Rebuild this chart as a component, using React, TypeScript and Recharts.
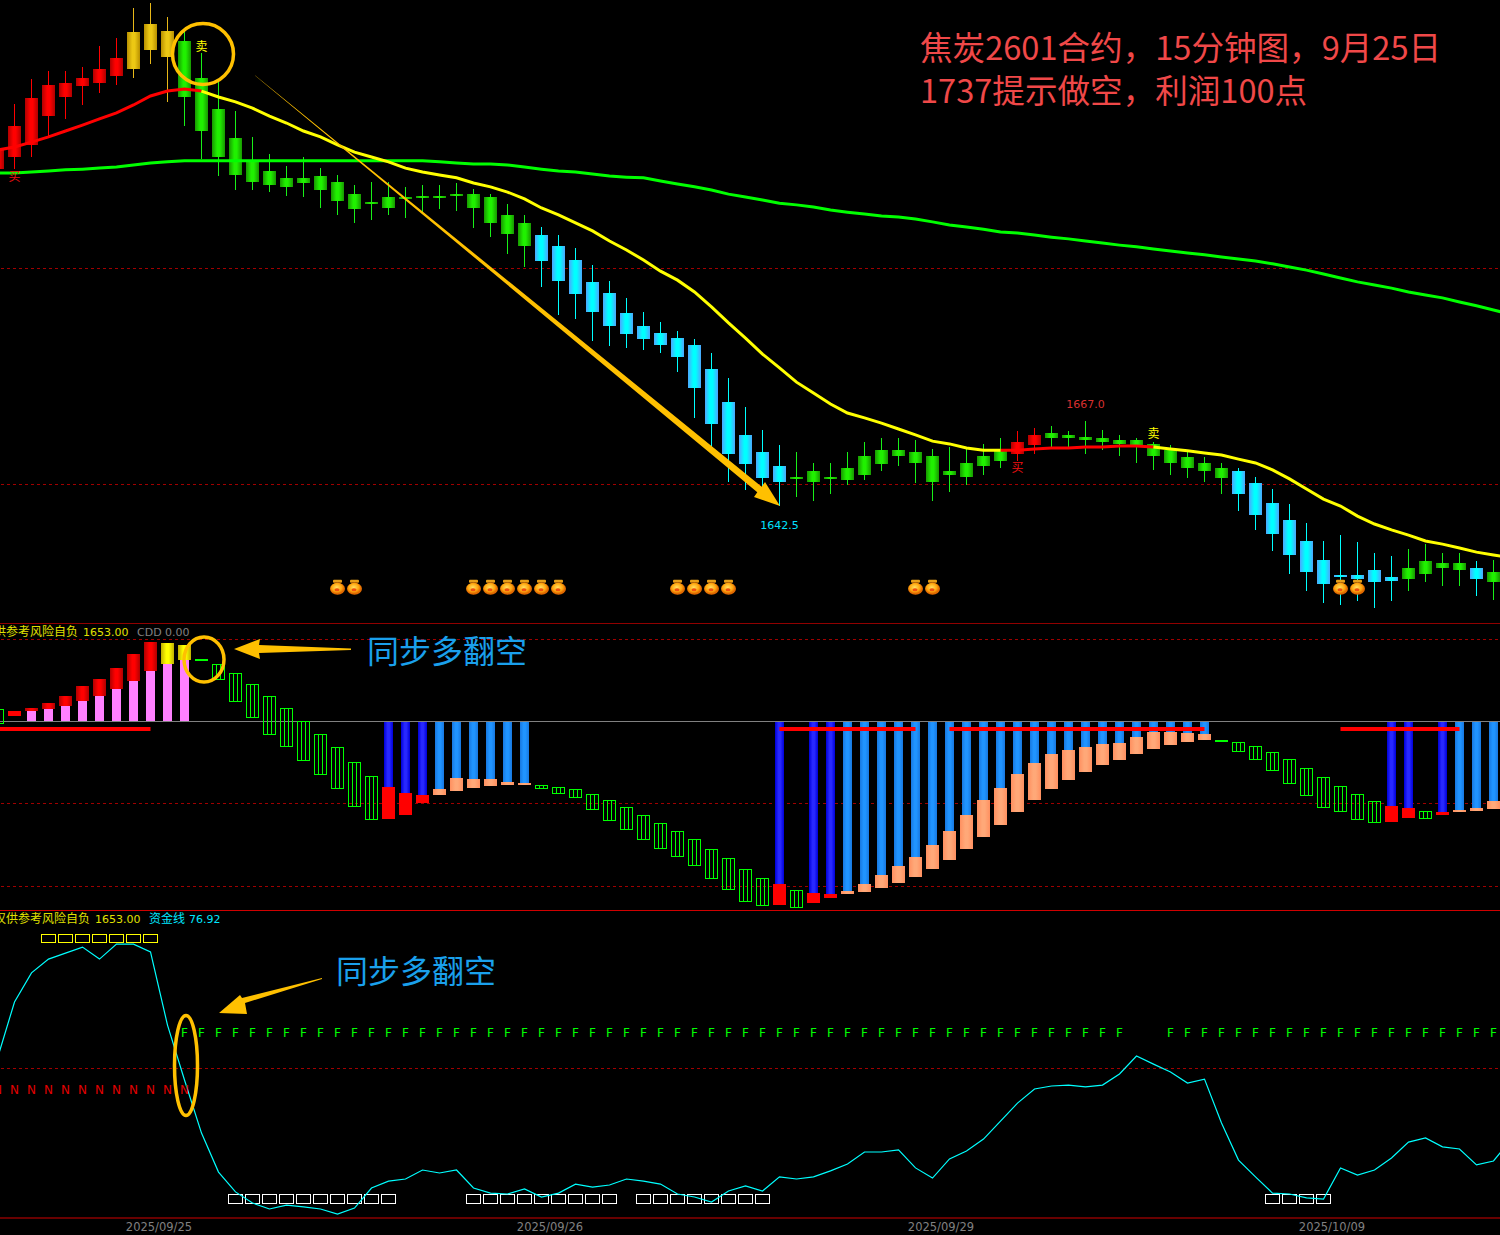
import React from "react";
import { ComposedChart, Bar, Line, XAxis, YAxis, ReferenceLine, ReferenceDot } from "recharts";

// price candles, bars 0-88
const highs = [1748, 1758.5, 1765.5, 1768, 1768, 1769, 1775, 1777.5, 1786, 1787.5,
    1783.5, 1779, 1773, 1765, 1756.5, 1749, 1744, 1740.5, 1743, 1740,
    1738, 1735, 1736, 1736, 1734.5, 1735, 1735, 1735.5, 1734, 1732.5,
    1729.5, 1726.5, 1723, 1720.5, 1717, 1712, 1707.5, 1702.5, 1698.5, 1695.5,
    1693, 1690.5, 1686.5, 1679.5, 1671, 1664.5, 1660, 1658, 1655, 1655,
    1658, 1661, 1662, 1662, 1661.5, 1659, 1659.5, 1659, 1660.5, 1662,
    1664, 1665, 1665.5, 1664, 1667, 1664.5, 1663, 1662, 1661, 1660,
    1658, 1656.5, 1655, 1653.5, 1651, 1647.5, 1643, 1637.5, 1632.5, 1634,
    1632, 1629, 1628, 1630, 1631.5, 1629, 1629, 1626.5, 1627];
const lows = [1739, 1739.5, 1743, 1749, 1754, 1758, 1761.5, 1764, 1766, 1770,
    1759, 1752, 1742.5, 1737.5, 1733.5, 1733.5, 1733, 1732, 1731.5, 1728.5,
    1726.5, 1724, 1725, 1726.5, 1725.5, 1727, 1728, 1727.5, 1722.5, 1720,
    1715, 1711.5, 1705.5, 1697.5, 1696.5, 1690, 1688.5, 1688, 1687.5, 1686.5,
    1681, 1668, 1658, 1649.5, 1647, 1647, 1642.5, 1645, 1644, 1646,
    1648.5, 1650, 1652.5, 1654, 1649, 1644, 1646.5, 1648.5, 1651.5, 1653.5,
    1655.5, 1657.5, 1659, 1659.5, 1657.5, 1658.5, 1657, 1655, 1653, 1651.5,
    1650.5, 1649.5, 1646, 1641, 1635.5, 1629.5, 1623, 1618, 1614.5, 1614,
    1615, 1613, 1615, 1618, 1620.5, 1619.5, 1619.5, 1616.5, 1615.5];
const bodyTops = [1745.5, 1752, 1760, 1764, 1764.5, 1766, 1768.5, 1771.5, 1779, 1781.5,
    1779.5, 1776.5, 1766, 1757, 1748.5, 1742, 1739, 1737, 1737, 1737.5,
    1736, 1732.5, 1730, 1731.5, 1731.5, 1732, 1732, 1732.5, 1732.5, 1731.5,
    1726.5, 1724, 1720.5, 1717.5, 1713.5, 1707, 1704, 1698, 1694.5, 1692.5,
    1691, 1689, 1682, 1672.5, 1663, 1658, 1654, 1651, 1652.5, 1651,
    1653.5, 1657, 1658.5, 1658.5, 1658, 1657, 1652.5, 1655, 1657, 1659,
    1661, 1663, 1663.5, 1663, 1662.5, 1662, 1661.5, 1661.5, 1660.5, 1658.5,
    1656.5, 1655, 1653.5, 1652.5, 1649, 1643.5, 1638.5, 1632.5, 1627, 1622.5,
    1622.5, 1624, 1622, 1624.5, 1626.5, 1626, 1626, 1624.5, 1623.5];
const bodyBottoms = [1739.5, 1743, 1746.5, 1755, 1760.5, 1763.5, 1764.5, 1766.5, 1768.5, 1774,
    1772, 1760.5, 1750.5, 1743, 1738, 1736, 1735, 1734.5, 1735.5, 1733.5,
    1730.5, 1728, 1729.5, 1728.5, 1731, 1731.5, 1731.5, 1732, 1728.5, 1724,
    1721, 1717.5, 1713, 1707.5, 1703.5, 1698.5, 1694.5, 1692, 1690.5, 1689,
    1685.5, 1676.5, 1666, 1657.5, 1654.5, 1650.5, 1649.5, 1650.5, 1649.5, 1650.5,
    1650, 1651.5, 1654.5, 1657, 1655, 1649.5, 1651.5, 1651, 1654, 1655.5,
    1657.5, 1660, 1662, 1662, 1661.5, 1661, 1660.5, 1660, 1657, 1655,
    1653.5, 1652.5, 1650.5, 1646, 1640, 1634.5, 1628.5, 1623.5, 1620, 1622,
    1621.5, 1620.5, 1621, 1621.5, 1623, 1624.5, 1624, 1621.5, 1620.5];
const candleRuns: [string, number][] = [["red", 8], ["gold", 3], ["green", 21], ["cyan", 15], ["green", 13],
    ["red", 2], ["green", 11], ["cyan", 10], ["green", 4], ["cyan", 1], ["green", 1]];

// moving averages, one extra value so the lines run off the right edge
const fastMa = [1745.1, 1746, 1747.4, 1748.9, 1750.6, 1752.3, 1754.1, 1755.8, 1758.1, 1760.7,
    1762.1, 1762.7, 1762.1, 1760.4, 1759, 1757.2, 1754.9, 1752.9, 1750.6, 1748.9,
    1746.6, 1744.5, 1743.1, 1741.7, 1739.9, 1738.8, 1737.9, 1737.1, 1735.6, 1734.5,
    1733, 1731, 1728.4, 1726.4, 1724.1, 1721.8, 1718.9, 1716.3, 1713.4, 1710.2,
    1707.6, 1704.2, 1699.9, 1695.3, 1690.9, 1686.3, 1682.3, 1678.2, 1675.1, 1671.9,
    1669.3, 1667.9, 1666.4, 1664.7, 1663, 1661.2, 1660.4, 1659.2, 1658.6, 1658.6,
    1658.6, 1658.9, 1659.2, 1659.2, 1659.5, 1659.5, 1659.8, 1659.8, 1659.5, 1658.9,
    1658.4, 1657.8, 1657.2, 1656, 1654.9, 1652.9, 1650.3, 1647.4, 1644.5, 1642.5,
    1639.6, 1637.3, 1635.6, 1634.1, 1632.4, 1631.5, 1630.4, 1629.2, 1628.4, 1627.5];
const slowMa = [1738.5, 1738.5, 1738.8, 1739.1, 1739.4, 1739.6, 1739.9, 1740.2, 1740.8, 1741.4,
    1741.7, 1742, 1742, 1742, 1742, 1742, 1742, 1742, 1742, 1742,
    1742, 1742, 1742, 1742, 1742, 1742, 1741.7, 1741.4, 1741.1, 1741.1,
    1740.8, 1740.2, 1739.6, 1739.1, 1738.8, 1738.2, 1737.6, 1737.3, 1737.1, 1736.2,
    1735.3, 1734.5, 1733.6, 1732.4, 1731.6, 1730.7, 1729.8, 1729.3, 1728.7, 1727.8,
    1727.2, 1726.7, 1726.1, 1725.8, 1725.2, 1724.4, 1723.5, 1722.9, 1722.3, 1721.5,
    1721.2, 1720.6, 1720, 1719.5, 1718.9, 1718.3, 1717.7, 1717.2, 1716.6, 1716,
    1715.4, 1714.9, 1714.3, 1713.7, 1713.1, 1712.3, 1711.4, 1710.5, 1709.4, 1708.2,
    1707.1, 1706.2, 1705.3, 1704.2, 1703.3, 1702.5, 1701.3, 1700.2, 1699, 1697.8];
const redMaRuns = [[0, 12], [59, 68]];
const yellowMaRuns = [[12, 59], [68, 89]];
const potBars = [20, 21, 28, 29, 30, 31, 32, 33, 40, 41, 42, 43, 54, 55, 79, 80];
const potLevel = 1619.1;
const priceDomain = [1608.77, 1788.36];
const priceGuides = [1711.1, 1648.8];
const priceNotes = [
    { bar: 1, price: 1737.3, text: "买", color: "#f01010", size: 12 },
    { bar: 12, price: 1774.8, text: "卖", color: "#ffff00", size: 12 },
    { bar: 60, price: 1653.5, text: "买", color: "#f01010", size: 12 },
    { bar: 68, price: 1663.3, text: "卖", color: "#ffff00", size: 12 },
    { bar: 46, price: 1637, text: "1642.5", color: "#00e0ff", size: 11 },
    { bar: 64, price: 1671.9, text: "1667.0", color: "#d83030", size: 11 },
];

// middle panel
const macdHighs = [12, 10, 13, 18, 25, 35, 42, 53, 67, 79,
    78, 76, 62, 57, 48, 37, 25, 13, 0, -13,
    -26, -41, -55, -66, -72, -74, -68, -57, -58, -58,
    -61, -62, -64, -66, -68, -73, -79, -86, -94, -102,
    -110, -118, -128, -137, -148, -157, -163, -169, -172, -173,
    -170, -163, -154, -145, -136, -124, -110, -94, -79, -67,
    -53, -42, -33, -29, -26, -23, -22, -16, -11, -11,
    -12, -13, -19, -21, -25, -31, -38, -47, -56, -65,
    -73, -80, -85, -87, -90, -91, -89, -87, -80];
const macdLows = [-2, 5, 10, 12, 15, 20, 25, 32, 40, 50,
    57, 61, 60, 42, 20, 4, -13, -25, -39, -53,
    -67, -85, -98, -98, -94, -82, -74, -70, -67, -65,
    -64, -64, -67, -72, -76, -88, -99, -108, -118, -127,
    -135, -144, -157, -168, -180, -184, -184, -186, -182, -177,
    -173, -171, -167, -162, -156, -148, -139, -128, -116, -104,
    -91, -79, -68, -59, -51, -44, -39, -33, -28, -24,
    -21, -19, -21, -30, -38, -49, -62, -74, -86, -90,
    -98, -101, -101, -97, -97, -94, -91, -90, -88];
const macdRuns: [string, number][] = [["box", 1], ["flat", 1], ["rise", 8], ["warn", 2], ["dash", 1], ["box", 10],
    ["deep", 3], ["mild", 6], ["box", 14], ["deep", 1], ["box", 1], ["deep", 2], ["mild", 22], ["dash", 1],
    ["box", 9], ["deep", 2], ["box", 1], ["deep", 1], ["mild", 3]];
const bandRuns = [[0, 9], [46, 54], [56, 71], [79, 86]];
const bandLevel = -8;
const macdDomain = [-189, 98];
const macdGuides = [82, -82, -165];

// bottom panel
const fundLine = [53.3, 72, 81.7, 86.3, 88.3, 90.3, 86.3, 91.3, 91.3, 88.7,
    64.3, 46, 28.3, 15.3, 8.7, 5, 3, 4.3, 3.7, 3,
    1.3, 3.3, 10, 12.3, 13, 16, 15, 16, 10, 8.3,
    8, 9.7, 7, 8.3, 11.3, 10.3, 11, 13, 12.3, 11.3,
    8, 7, 5.3, 9, 10.7, 9, 13.7, 13, 13.7, 15.7,
    18, 22, 22, 22.7, 16.7, 13.3, 19.7, 22.3, 26.3, 32.3,
    38.3, 43, 44, 44.3, 43.7, 44.3, 48, 54, 51.3, 48.7,
    45, 46.3, 31.7, 19.3, 13.7, 8.3, 8, 6.7, 6.3, 16.7,
    14.3, 16, 20, 25.3, 26.7, 23.7, 23, 17.7, 19, 26];
const yellowFlagRuns = [[3, 9]];
const whiteFlagRuns = [[14, 23], [28, 36], [38, 45], [75, 78]];
const fRuns = [[11, 66], [69, 89]];
const nRuns = [[0, 11]];
const fLevel = 61.7;
const nLevel = 43;
const fundDomain = [0, 102.67];
const fundGuide = 50;
const dateTicks = [9, 32, 55, 78];
const dateLabels = ["2025/09/25", "2025/09/26", "2025/09/29", "2025/10/09"];

const expand = (runs: [string, number][]) => runs.flatMap(([k, n]) => Array(n).fill(k));
const inRuns = (runs: number[][], i: number) => runs.some(([a, b]) => i >= a && i <= b);
const candleKinds = expand(candleRuns);
const macdKinds = expand(macdRuns);
const noStem = ["box", "flat", "dash"];

const rows = Array.from({ length: 90 }, (_, i) => ({
    idx: i,
    candle: i < 89 ? [lows[i], highs[i]] : null,
    bodyTop: bodyTops[i],
    bodyBottom: bodyBottoms[i],
    kind: candleKinds[i],
    maRed: inRuns(redMaRuns, i) ? fastMa[i] : null,
    maYellow: inRuns(yellowMaRuns, i) ? fastMa[i] : null,
    slow: slowMa[i],
    pot: potBars.includes(i) ? potLevel : null,
    macd: i < 89 ? [Math.min(macdLows[i], noStem.includes(macdKinds[i]) ? macdLows[i] : 0),
        Math.max(macdHighs[i], noStem.includes(macdKinds[i]) ? macdHighs[i] : 0)] : null,
    capHigh: macdHighs[i],
    capLow: macdLows[i],
    macdKind: macdKinds[i],
    band: inRuns(bandRuns, i) ? bandLevel : null,
    fund: fundLine[i],
    flag: inRuns(yellowFlagRuns, i) ? [92, 94.7] : inRuns(whiteFlagRuns, i) ? [5, 8] : null,
    flagColor: inRuns(yellowFlagRuns, i) ? "#ffff00" : "#ffffff",
    fMark: inRuns(fRuns, i) ? fLevel : null,
    nMark: inRuns(nRuns, i) ? nLevel : null,
}));

const wickColors: Record<string, string> = { red: "#ff0000", gold: "#e8b818", green: "#18f018", cyan: "#00ffff" };

const Candle = (props: any) => {
    const { x, y, width, height, payload } = props;
    if (!payload || !payload.candle) return null;
    const [lo, hi] = payload.candle;
    const px = (v: number) => Math.round(y + ((hi - v) / (hi - lo)) * height);
    const top = px(payload.bodyTop);
    const bottom = Math.max(px(payload.bodyBottom), top + 2);
    return (
        <g shapeRendering="crispEdges">
            <rect x={x + 6} y={px(hi)} width={1} height={px(lo) - px(hi)} fill={wickColors[payload.kind]} />
            <rect x={x} y={top} width={width} height={bottom - top} fill={`url(#grad-${payload.kind})`} />
        </g>
    );
};

const MacdBar = (props: any) => {
    const { x, y, width, height, payload } = props;
    if (!payload || !payload.macd) return null;
    const [lo, hi] = payload.macd;
    const px = (v: number) => Math.round(y + ((hi - v) / (hi - lo)) * height);
    const top = px(payload.capHigh);
    const bottom = Math.max(px(payload.capLow), top + 2);
    const kind = payload.macdKind;
    if (kind === "box") {
        return (
            <g shapeRendering="crispEdges" fill="none" stroke="#00ff00">
                <rect x={x + 0.5} y={top + 0.5} width={12} height={bottom - top} />
                <line x1={x + 4.5} x2={x + 4.5} y1={top} y2={bottom} />
                <line x1={x + 8.5} x2={x + 8.5} y1={top} y2={bottom} />
            </g>
        );
    }
    if (kind === "dash") return <rect x={x} y={top} width={width} height={2} fill="#00ff00" shapeRendering="crispEdges" />;
    if (kind === "flat") return <rect x={x} y={top} width={width} height={bottom - top} fill="#ff0000" shapeRendering="crispEdges" />;
    const zero = px(0);
    const up = kind === "rise" || kind === "warn";
    const stemFill = up ? "#ff80ff" : kind === "deep" ? "url(#grad-deep)" : "url(#grad-mild)";
    const capFill = kind === "rise" ? "url(#grad-red)" : kind === "warn" ? "url(#grad-warn)" : kind === "deep" ? "#ff0000" : "url(#grad-salmon)";
    return (
        <g shapeRendering="crispEdges">
            {up
                ? <rect x={x + 2} y={bottom} width={9} height={zero - bottom} fill={stemFill} />
                : <rect x={x + 2} y={zero + 1} width={9} height={top - zero} fill={stemFill} />}
            <rect x={x} y={top} width={width} height={bottom - top} fill={capFill} />
        </g>
    );
};

const FlagBox = (props: any) => {
    const { x, y, height, payload } = props;
    if (!payload || !payload.flag) return null;
    const ty = Math.round(y);
    return <rect x={x + 0.5} y={ty + 0.5} width={14} height={Math.round(height)} fill="none" stroke={payload.flagColor} shapeRendering="crispEdges" />;
};

const Pot = (props: any) => {
    const { cx, cy, index } = props;
    if (cy == null || Number.isNaN(cy)) return <g key={index} />;
    return (
        <g key={index}>
            <rect x={cx - 4.5} y={cy - 7.5} width={9} height={3} rx={1} fill="#e8a018" />
            <rect x={cx - 3} y={cy - 5} width={6} height={2} fill="#b06008" />
            <ellipse cx={cx} cy={cy + 1.5} rx={7.5} ry={6} fill="url(#grad-pot)" />
            <ellipse cx={cx - 0.5} cy={cy + 2.5} rx={2.5} ry={1.5} fill="#f05010" />
        </g>
    );
};

const letterDot = (letter: string, color: string) => (props: any) => {
    const { cx, cy, index } = props;
    if (cy == null || Number.isNaN(cy)) return <g key={index} />;
    return (
        <text key={index} x={cx} y={cy + 4.5} textAnchor="middle" fontSize={12} fontFamily="DejaVu Sans" fill={color}>
            {letter}
        </text>
    );
};

const grad = (id: string, edge: string, mid: string) => (
    <linearGradient id={id} x1="0" y1="0" x2="1" y2="0">
        <stop offset="0" stopColor={edge} />
        <stop offset="0.4" stopColor={mid} />
        <stop offset="0.6" stopColor={mid} />
        <stop offset="1" stopColor={edge} />
    </linearGradient>
);

const abs = (top: number): React.CSSProperties => ({ position: "absolute", left: 0, top });
const plotMargin = { top: 0, right: -19, bottom: 0, left: -11 };
const amber = "#ffc000";
const cjk = "Noto Sans CJK SC";
const latin = "DejaVu Sans";

// dashed levels sit in their own chart below the bars
const GuideLayer = ({ top, height, domain, dashed, solid }: { top: number; height: number; domain: number[]; dashed: number[]; solid?: number }) => (
    <div style={abs(top)}>
        <ComposedChart width={1500} height={height} data={rows} margin={plotMargin}>
            <XAxis dataKey="idx" type="category" scale="band" hide />
            <YAxis hide domain={domain} allowDataOverflow />
            {dashed.map((v) => (
                <ReferenceLine key={v} y={v} stroke="#a00000" strokeDasharray="3 3" shapeRendering="crispEdges" />
            ))}
            {solid !== undefined && <ReferenceLine y={solid} stroke="#808080" shapeRendering="crispEdges" />}
        </ComposedChart>
    </div>
);

export default function App() {
    return (
        <div style={{ position: "absolute", left: 0, top: 0, width: 1500, height: 1235, background: "#000", overflow: "hidden" }}>
            <svg width={1} height={1} style={abs(0)}>
                <defs>
                    {grad("grad-red", "#b00000", "#ff0000")}
                    {grad("grad-gold", "#b89000", "#ecc814")}
                    {grad("grad-green", "#189800", "#20f000")}
                    {grad("grad-cyan", "#4da6ff", "#00ffff")}
                    {grad("grad-warn", "#c0b000", "#ffff00")}
                    {grad("grad-deep", "#0000d8", "#2828ff")}
                    {grad("grad-mild", "#1878e0", "#2094ff")}
                    {grad("grad-salmon", "#ff9060", "#ffa878")}
                    <radialGradient id="grad-pot" cx="0.45" cy="0.4">
                        <stop offset="0" stopColor="#ffe060" />
                        <stop offset="0.65" stopColor="#ffa810" />
                        <stop offset="1" stopColor="#e06800" />
                    </radialGradient>
                </defs>
            </svg>

            <GuideLayer top={0} height={623} domain={priceDomain} dashed={priceGuides} />
            <GuideLayer top={623} height={287} domain={macdDomain} dashed={macdGuides} solid={0} />
            <GuideLayer top={910} height={308} domain={fundDomain} dashed={[fundGuide]} />

            <div style={abs(0)}>
                <ComposedChart width={1500} height={623} data={rows} margin={plotMargin} barCategoryGap={0}>
                    <XAxis dataKey="idx" type="category" scale="band" hide />
                    <YAxis hide domain={priceDomain} allowDataOverflow />
                    <Bar dataKey="candle" barSize={13} shape={<Candle />} isAnimationActive={false} />
                    <Line dataKey="slow" stroke="#00ff00" strokeWidth={3} dot={false} activeDot={false} isAnimationActive={false} />
                    <Line dataKey="maRed" stroke="#ff0000" strokeWidth={3} dot={false} activeDot={false} isAnimationActive={false} />
                    <Line dataKey="maYellow" stroke="#ffff00" strokeWidth={3} dot={false} activeDot={false} isAnimationActive={false} />
                    <Line dataKey="pot" stroke="none" dot={Pot} activeDot={false} isAnimationActive={false} />
                    {priceNotes.map((n) => (
                        <ReferenceDot
                            key={n.bar + n.text}
                            x={n.bar}
                            y={n.price}
                            r={0}
                            fill="none"
                            stroke="none"
                            ifOverflow="visible"
                            label={{ value: n.text, position: "center", fill: n.color, fontSize: n.size, fontFamily: `${latin}, ${cjk}` }}
                        />
                    ))}
                </ComposedChart>
            </div>

            <div style={abs(623)}>
                <ComposedChart width={1500} height={287} data={rows} margin={plotMargin} barCategoryGap={0}>
                    <XAxis dataKey="idx" type="category" scale="band" hide />
                    <YAxis hide domain={macdDomain} allowDataOverflow />
                    <Bar dataKey="macd" barSize={13} shape={<MacdBar />} isAnimationActive={false} />
                    <Line dataKey="band" stroke="#ff0000" strokeWidth={4} dot={false} activeDot={false} isAnimationActive={false} />
                </ComposedChart>
            </div>

            <div style={abs(910)}>
                <ComposedChart width={1500} height={325} data={rows} margin={plotMargin} barCategoryGap={0}>
                    <XAxis
                        dataKey="idx"
                        type="category"
                        scale="band"
                        height={17}
                        ticks={dateTicks}
                        interval={0}
                        tickLine={false}
                        tickSize={0}
                        tickMargin={5}
                        axisLine={{ stroke: "#d00000" }}
                        tickFormatter={(v: number) => dateLabels[dateTicks.indexOf(v)]}
                        tick={{ fill: "#808080", fontSize: 11.5, fontFamily: latin, dx: 8.5 }}
                    />
                    <YAxis hide domain={fundDomain} allowDataOverflow />
                    <Bar dataKey="flag" barSize={15} shape={<FlagBox />} isAnimationActive={false} />
                    <Line dataKey="fund" stroke="#00ffff" strokeWidth={1.2} dot={false} activeDot={false} isAnimationActive={false} />
                    <Line dataKey="fMark" stroke="none" dot={letterDot("F", "#00ff00")} activeDot={false} isAnimationActive={false} />
                    <Line dataKey="nMark" stroke="none" dot={letterDot("N", "#e00000")} activeDot={false} isAnimationActive={false} />
                </ComposedChart>
            </div>

            {/* hand drawn notes on top of the screenshot */}
            <svg width={1500} height={1235} style={{ ...abs(0), pointerEvents: "none" }}>
                <line x1={0} x2={1500} y1={623.5} y2={623.5} stroke="#900000" />
                <line x1={0} x2={1500} y1={910.5} y2={910.5} stroke="#d00000" />

                <text x={920} y={60} fontSize={32.6} fontFamily={cjk} fill="#f04848">焦炭2601合约，15分钟图，9月25日</text>
                <text x={920} y={103} fontSize={32.6} fontFamily={cjk} fill="#f04848">1737提示做空，利润100点</text>

                <circle cx={203} cy={54} r={30.5} fill="none" stroke={amber} strokeWidth={3.5} />
                <polygon points="252,73 761.7,486.8 765,482 780,506 754,497 757.3,492.2" fill={amber} />

                <text x={-18} y={636} fontSize={12} fontFamily={cjk} fill="#e0e000">仅供参考风险自负</text>
                <text x={83} y={636} fontSize={11} fontFamily={latin} fill="#e0e000">1653.00</text>
                <text x={137} y={636} fontSize={11} fontFamily={latin} fill="#808080">CDD 0.00</text>
                <ellipse cx={204} cy={659.5} rx={20} ry={22.5} fill="none" stroke={amber} strokeWidth={3.5} />
                <polygon points="351,648.5 351,650 259,653 260,659 234,649 260,639 259,645" fill={amber} />
                <text x={367} y={663} fontSize={32} fontFamily={cjk} fill="#1aa0ec">同步多翻空</text>

                <text x={-6} y={923} fontSize={12} fontFamily={cjk} fill="#e0e000">仅供参考风险自负</text>
                <text x={95} y={923} fontSize={11} fontFamily={latin} fill="#e0e000">1653.00</text>
                <text x={149} y={923} fontSize={12} fontFamily={cjk} fill="#00e8ff">资金线</text>
                <text x={189} y={923} fontSize={11} fontFamily={latin} fill="#00e8ff">76.92</text>
                <ellipse cx={186} cy={1065.5} rx={11.5} ry={50} fill="none" stroke={amber} strokeWidth={3.5} />
                <polygon points="322,978 322,979 245,1003 247,1014 219,1013 240,995 242,998" fill={amber} />
                <text x={336} y={983} fontSize={32} fontFamily={cjk} fill="#1aa0ec">同步多翻空</text>
            </svg>
        </div>
    );
}
